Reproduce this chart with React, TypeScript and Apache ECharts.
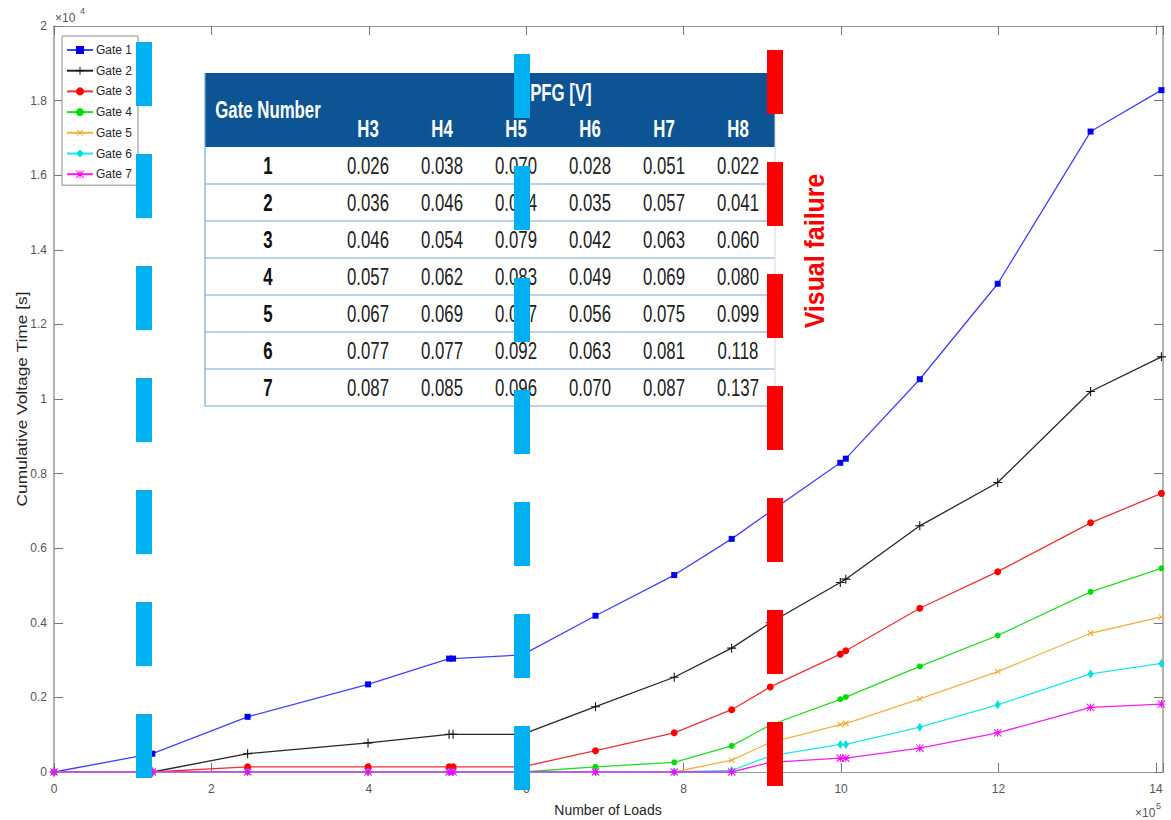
import React, { useEffect, useRef } from "react";
import * as echarts from "echarts";

// Number of loads (x 10^5)
const loads = [0, 1.25, 2.46, 3.99, 5.02, 5.07, 5.95, 6.88, 7.88, 8.61, 9.1, 9.99, 10.06, 11.0, 11.99, 13.17, 14.07];
// Cumulative voltage time (x 10^4 s)
const gate1 = [0, 0.049, 0.148, 0.235, 0.304, 0.304, 0.314, 0.419, 0.528, 0.625, 0.698, 0.829, 0.84, 1.053, 1.309, 1.717, 1.828];
const gate2 = [0, 0, 0.049, 0.078, 0.101, 0.101, 0.101, 0.175, 0.254, 0.332, 0.4, 0.508, 0.517, 0.66, 0.776, 1.02, 1.113];
const gate3 = [0, 0, 0.014, 0.014, 0.014, 0.014, 0.014, 0.057, 0.105, 0.167, 0.228, 0.316, 0.325, 0.439, 0.537, 0.668, 0.747];
const gate4 = [0, 0, 0, 0, 0, 0, 0, 0.014, 0.026, 0.07, 0.126, 0.195, 0.201, 0.283, 0.366, 0.483, 0.546];
const gate5 = [0, 0, 0, 0, 0, 0, 0, 0, 0, 0.032, 0.079, 0.127, 0.13, 0.196, 0.269, 0.372, 0.416];
const gate6 = [0, 0, 0, 0, 0, 0, 0, 0, 0, 0.004, 0.043, 0.074, 0.074, 0.12, 0.18, 0.263, 0.291];
const gate7 = [0, 0, 0, 0, 0, 0, 0, 0, 0, 0, 0.026, 0.037, 0.037, 0.064, 0.105, 0.173, 0.182];

const gateNames = ["Gate 1", "Gate 2", "Gate 3", "Gate 4", "Gate 5", "Gate 6", "Gate 7"];
const gateValues = [gate1, gate2, gate3, gate4, gate5, gate6, gate7];

const xTicks = [0, 2, 4, 6, 8, 10, 12, 14];
const yTicks = [0, 0.2, 0.4, 0.6, 0.8, 1, 1.2, 1.4, 1.6, 1.8, 2];

// Table
const tableHeader = "V-PFG [V]";
const tableFirstCol = "Gate Number";
const tableColumns = ["H3", "H4", "H5", "H6", "H7", "H8"];
const tableGates = ["1", "2", "3", "4", "5", "6", "7"];
const tableRows = [
  ["0.026", "0.038", "0.070", "0.028", "0.051", "0.022"],
  ["0.036", "0.046", "0.074", "0.035", "0.057", "0.041"],
  ["0.046", "0.054", "0.079", "0.042", "0.063", "0.060"],
  ["0.057", "0.062", "0.083", "0.049", "0.069", "0.080"],
  ["0.067", "0.069", "0.087", "0.056", "0.075", "0.099"],
  ["0.077", "0.077", "0.092", "0.063", "0.081", "0.118"],
  ["0.087", "0.085", "0.096", "0.070", "0.087", "0.137"],
];

const PLUS = "path://M4.4,0H5.6V4.4H10V5.6H5.6V10H4.4V5.6H0V4.4H4.4Z";
const ASTER =
  "path://M4.4,0H5.6V4.4H10V5.6H5.6V10H4.4V5.6H0V4.4H4.4Z M0,0.85L0.85,0L10,9.15L9.15,10Z M9.15,0L10,0.85L0.85,10L0,9.15Z";

const lineColors = ["#4040ff", "#262626", "#f03030", "#20dd20", "#eeb444", "#20e6e6", "#f020f0"];
const markColors = ["#0000ee", "#111111", "#ff0000", "#00dd00", "#e8a830", "#00e0e0", "#ff00ff"];
const symbols = ["rect", PLUS, "circle", "circle", PLUS, "diamond", ASTER];
const symbolSizes: any[] = [6, 9, 7, 6, 8, [6, 9], 8];
const symbolRotates = [0, 0, 0, 0, 45, 0, 0];

const FONT = "Liberation Sans, Arial, Helvetica, sans-serif";

export default function App() {
  const ref = useRef<HTMLDivElement>(null);
  useEffect(() => {
    if (!ref.current) return;
    const chart = echarts.init(ref.current, undefined, { renderer: "svg" });

    const series = gateNames.map((name, i) => ({
      name,
      type: "line",
      data: loads.map((x, j) => [x, gateValues[i][j]]),
      symbol: symbols[i],
      symbolSize: symbolSizes[i],
      symbolRotate: symbolRotates[i],
      showAllSymbol: true,
      lineStyle: { color: lineColors[i], width: 1.3 },
      itemStyle: { color: markColors[i] },
      emphasis: { disabled: true },
      z: 2 + i,
    }));

    // table graphics
    const tL = 205, tR = 775, tT = 73, hB = 147, rowH = 37;
    const colX = [268, 368, 442, 516, 590, 664, 738];
    const tableEls: any[] = [];
    tableEls.push({ type: "rect", shape: { x: tL, y: tT, width: tR - tL, height: hB - tT + rowH * 7 }, style: { fill: "#ffffff" }, z: 10 });
    tableEls.push({ type: "rect", shape: { x: tL, y: tT, width: tR - tL, height: hB - tT }, style: { fill: "#0d5494" }, z: 11 });
    const txt = (text: string, x: number, y: number, color: string, bold: boolean) => ({
      type: "text",
      x,
      y,
      scaleX: 0.73,
      z: 12,
      style: { text, fill: color, fontSize: 23, fontWeight: bold ? "bold" : "normal", fontFamily: FONT, align: "center", verticalAlign: "middle" },
    });
    tableEls.push(txt(tableFirstCol, colX[0], 110, "#ffffff", true));
    tableEls.push(txt(tableHeader, (colX[1] + colX[6]) / 2, 93, "#ffffff", true));
    tableColumns.forEach((c, i) => tableEls.push(txt(c, colX[i + 1], 129, "#ffffff", true)));
    tableGates.forEach((g, r) => {
      const cy = hB + rowH * r + rowH / 2 + 1;
      tableEls.push(txt(g, colX[0], cy, "#111111", true));
      tableRows[r].forEach((v, c) => tableEls.push(txt(v, colX[c + 1], cy, "#222222", false)));
      const ly = hB + rowH * (r + 1);
      tableEls.push({ type: "line", shape: { x1: tL, y1: ly, x2: tR, y2: ly }, style: { stroke: "#7aa6d6", lineWidth: 1.2 }, z: 12 });
    });
    tableEls.push({ type: "line", shape: { x1: tL, y1: tT, x2: tL, y2: hB + rowH * 7 }, style: { stroke: "#7aa6d6", lineWidth: 1.2 }, z: 12 });
    tableEls.push({ type: "line", shape: { x1: tR, y1: tT, x2: tR, y2: hB + rowH * 7 }, style: { stroke: "#d0d8e0", lineWidth: 1 }, z: 12 });

    const bar = (x: number, y1: number, y2: number, color: string) => ({
      type: "line",
      shape: { x1: x, y1, x2: x, y2 },
      style: { stroke: color, lineWidth: 16, lineDash: [64, 48], lineCap: "butt" },
      z: 30,
    });

    const smallText = (text: string, x: number, y: number, size: number, align = "left") => ({
      type: "text",
      x,
      y,
      z: 12,
      style: { text, fill: "#555555", fontSize: size, fontFamily: FONT, align, verticalAlign: "middle" },
    });

    chart.setOption({
      animation: false,
      backgroundColor: "#ffffff",
      textStyle: { fontFamily: FONT },
      grid: { left: 54, right: 8, top: 26, bottom: 48, containLabel: false },
      legend: {
        data: gateNames,
        orient: "vertical",
        left: 62,
        top: 36,
        itemWidth: 26,
        itemHeight: 10,
        itemGap: 8.7,
        padding: [8, 6, 5, 4],
        backgroundColor: "#ffffff",
        borderColor: "#8c8c8c",
        borderWidth: 1,
        textStyle: { color: "#262626", fontSize: 12, fontFamily: FONT, padding: [0, 0, 0, -2] },
        z: 8,
      },
      xAxis: [
        {
          type: "value",
          min: 0,
          max: 14.09,
          interval: 2,
          axisLine: { show: true, onZero: false, lineStyle: { color: "#9a9a9a", width: 1 } },
          axisTick: { inside: true, length: 9, lineStyle: { color: "#777777" } },
          axisLabel: {
            color: "#555555",
            fontSize: 12,
            margin: 11,
            formatter: (v: number) => (xTicks.some((t) => Math.abs(t - v) < 1e-6) ? String(Math.round(v)) : ""),
          },
          splitLine: { show: false },
        },
        {
          type: "value",
          position: "top",
          min: 0,
          max: 14.09,
          interval: 2,
          axisLine: { show: true, onZero: false, lineStyle: { color: "#9a9a9a", width: 1 } },
          axisTick: { inside: true, length: 9, lineStyle: { color: "#777777" } },
          axisLabel: { show: false },
          splitLine: { show: false },
        },
      ],
      yAxis: [
        {
          type: "value",
          min: 0,
          max: 2,
          interval: 0.2,
          axisLine: { show: true, onZero: false, lineStyle: { color: "#9a9a9a", width: 1.5 } },
          axisTick: { inside: true, length: 9, lineStyle: { color: "#777777" } },
          axisLabel: {
            color: "#555555",
            fontSize: 12,
            margin: 7,
            formatter: (v: number) => {
              const t = yTicks.find((k) => Math.abs(k - v) < 1e-6);
              return t === undefined ? "" : String(t);
            },
          },
          splitLine: { show: false },
        },
        {
          type: "value",
          position: "right",
          min: 0,
          max: 2,
          interval: 0.2,
          axisLine: { show: true, onZero: false, lineStyle: { color: "#9a9a9a", width: 1.5 } },
          axisTick: { inside: true, length: 9, lineStyle: { color: "#777777" } },
          axisLabel: { show: false },
          splitLine: { show: false },
        },
      ],
      series,
      graphic: {
        elements: [
          ...tableEls,
          smallText("\u00d710", 55, 18, 12),
          smallText("4", 80, 11, 9),
          smallText("\u00d710", 1135, 813, 12),
          smallText("5", 1156, 806, 9),
          {
            type: "text",
            x: 608,
            y: 810,
            z: 12,
            style: { text: "Number of Loads", fill: "#262626", fontSize: 14, fontFamily: FONT, align: "center", verticalAlign: "middle" },
          },
          {
            type: "text",
            x: 22,
            y: 399,
            rotation: Math.PI / 2,
            scaleX: 1.24,
            z: 12,
            style: { text: "Cumulative Voltage Time [s]", fill: "#262626", fontSize: 14, fontFamily: FONT, align: "center", verticalAlign: "middle" },
          },
          {
            type: "text",
            x: 814,
            y: 251,
            rotation: Math.PI / 2,
            scaleX: 0.89,
            z: 12,
            style: { text: "Visual failure", fill: "#ff0000", fontSize: 28, fontWeight: "bold", fontFamily: FONT, align: "center", verticalAlign: "middle" },
          },
          bar(144, 42, 778, "#00b0f0"),
          bar(522, 54, 790, "#00b0f0"),
          bar(775, 50, 786, "#ff0000"),
        ],
      },
    });
    return () => chart.dispose();
  }, []);
  return <div ref={ref} style={{ position: "absolute", left: 0, top: 0, width: 1171, height: 820 }} />;
}
